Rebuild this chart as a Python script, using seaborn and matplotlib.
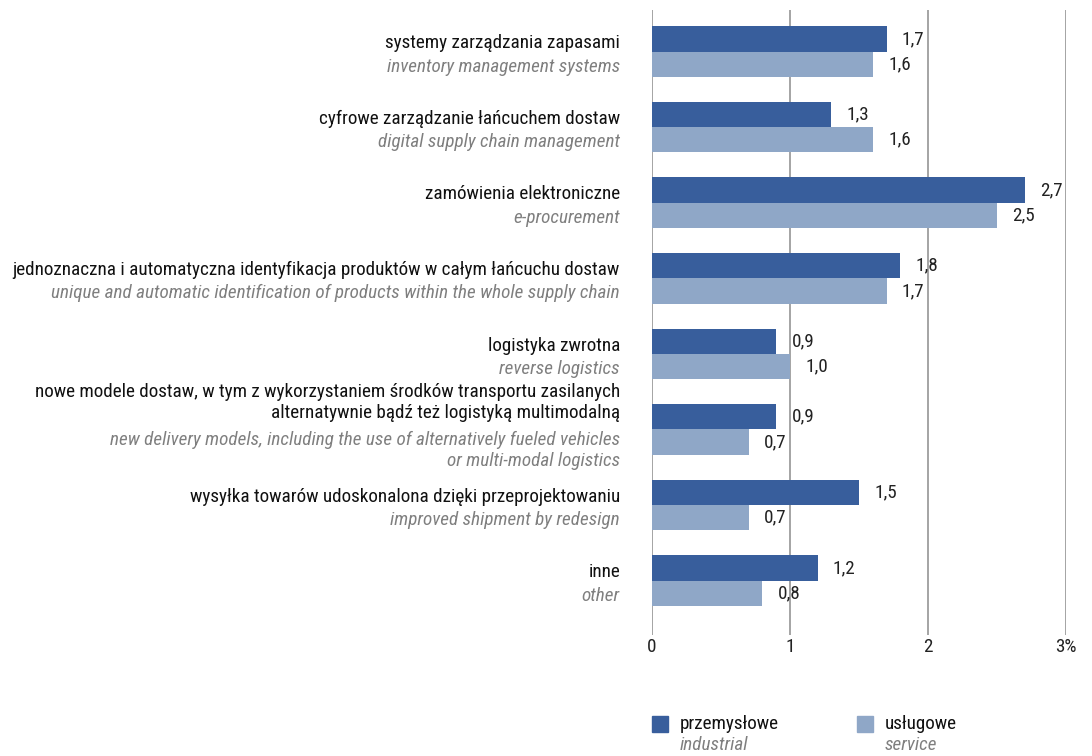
import matplotlib
matplotlib.use("Agg")
import matplotlib.pyplot as plt
import seaborn as sns
import pandas as pd
from matplotlib.patches import Rectangle
from matplotlib import font_manager

categories_pl = [
    "systemy zarządzania zapasami",
    "cyfrowe zarządzanie łańcuchem dostaw",
    "zamówienia elektroniczne",
    "jednoznaczna i automatyczna identyfikacja produktów w całym łańcuchu dostaw",
    "logistyka zwrotna",
    "nowe modele dostaw, w tym z wykorzystaniem środków transportu zasilanych\nalternatywnie bądź też logistyką multimodalną",
    "wysyłka towarów udoskonalona dzięki przeprojektowaniu",
    "inne",
]
categories_en = [
    "inventory management systems",
    "digital supply chain management",
    "e-procurement",
    "unique and automatic identification of products within the whole supply chain",
    "reverse logistics",
    "new delivery models, including the use of alternatively fueled vehicles\nor multi-modal logistics",
    "improved shipment by redesign",
    "other",
]
industrial = [1.7, 1.3, 2.7, 1.8, 0.9, 0.9, 1.5, 1.2]
service = [1.6, 1.6, 2.5, 1.7, 1.0, 0.7, 0.7, 0.8]
series_pl = ["przemysłowe", "usługowe"]
series_en = ["industrial", "service"]
xticks = [0, 1, 2, 3]
xticklabels = ["0", "1", "2", "3%"]

colors = ["#385E9C", "#8FA7C7"]
gray_text = "#7f7f7f"

sns.set_theme(style="white")
available = {f.name for f in font_manager.fontManager.ttflist}
candidates = ["Roboto Condensed", "Fira Sans Condensed", "Asap Condensed",
              "Archivo Narrow", "PT Sans Narrow", "Liberation Sans Narrow",
              "Encode Sans Condensed", "Barlow Semi Condensed", "Open Sans Condensed"]
chosen = [c for c in candidates if c in available][:1]
plt.rcParams["font.family"] = chosen + ["DejaVu Sans"]

df = pd.DataFrame({
    "cat": list(range(len(categories_pl))) * 2,
    "value": industrial + service,
    "series": [series_pl[0]] * len(industrial) + [series_pl[1]] * len(service),
})

fig = plt.figure(figsize=(10.92, 7.56), dpi=100)
ax = fig.add_axes([652 / 1092, 1 - 635 / 756, (1066 - 652) / 1092, (635 - 10) / 756])

# calibrate font size so the longest label spans about 610 px, as in reference
renderer = fig.canvas.get_renderer()
probe = fig.text(0, 0, categories_pl[3], fontsize=13)
w = probe.get_window_extent(renderer).width
probe.remove()
fs = max(9.0, min(16.0, 13 * 608 / w))

sns.barplot(data=df, y="cat", x="value", hue="series", orient="h",
            palette=colors, saturation=1, width=0.67, ax=ax, legend=False,
            order=list(range(len(categories_pl))), hue_order=series_pl,
            linewidth=0, edgecolor="none")

ax.set_xlim(0, 3)
ax.set_ylim(7.72, -0.55)
ax.set_xticks(xticks)
ax.set_xticklabels(xticklabels, fontsize=fs)
ax.tick_params(axis="x", length=0, pad=2, colors="#222222")
ax.set_yticks([])
ax.set_xlabel("")
ax.set_ylabel("")
for s in ax.spines.values():
    s.set_visible(False)
ax.grid(False)
for x in xticks:
    ax.axvline(x, color="#8c8c8c", lw=1.1, zorder=0)

for cont, vals in zip(ax.containers, [industrial, service]):
    ax.bar_label(cont, labels=[f"{v:.1f}".replace(".", ",") for v in vals],
                 padding=11, fontsize=fs, color="#222222")

trans = ax.get_yaxis_transform()
xlab = (620 - 652) / 414
for i, (pl, en) in enumerate(zip(categories_pl, categories_en)):
    if "\n" in pl:
        ax.text(xlab, i - 0.36, pl, transform=trans, ha="right", va="center",
                fontsize=fs, color="#111111", linespacing=1.2)
        ax.text(xlab, i + 0.28, en, transform=trans, ha="right", va="center",
                fontsize=fs, color=gray_text, style="italic", linespacing=1.2)
    else:
        ax.text(xlab, i - 0.11, pl, transform=trans, ha="right", va="center",
                fontsize=fs, color="#111111")
        ax.text(xlab, i + 0.2, en, transform=trans, ha="right", va="center",
                fontsize=fs, color=gray_text, style="italic")

# legend
for (x0, pl, en, c) in [(652, series_pl[0], series_en[0], colors[0]),
                        (857, series_pl[1], series_en[1], colors[1])]:
    fig.add_artist(Rectangle((x0 / 1092, 1 - 732 / 756), 16 / 1092, 16 / 756,
                             transform=fig.transFigure, color=c))
    fig.text((x0 + 28) / 1092, 1 - 724 / 756, pl, ha="left", va="center",
             fontsize=fs, color="#111111")
    fig.text((x0 + 28) / 1092, 1 - 745 / 756, en, ha="left", va="center",
             fontsize=fs, color=gray_text, style="italic")

fig.savefig("out.png", dpi=100)
